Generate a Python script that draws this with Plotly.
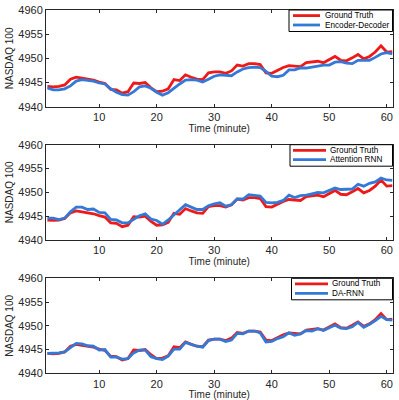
import plotly.graph_objects as go

# Time steps (minutes)
minutes = list(range(1, 62))

ground_truth = [
    4944.2, 4944.1, 4944.2, 4944.5, 4945.7, 4946.1, 4945.9, 4945.7, 4945.5, 4945.1,
    4944.8, 4943.6, 4943.5, 4942.8, 4943.1, 4944.9, 4944.8, 4945.0, 4943.9, 4943.1,
    4943.2, 4943.7, 4945.6, 4945.4, 4946.6, 4946.1, 4945.7, 4945.6, 4947.0, 4947.2,
    4947.2, 4946.9, 4947.4, 4948.6, 4948.4, 4948.9, 4948.9, 4948.7, 4947.0, 4946.9,
    4947.5, 4948.1, 4948.5, 4948.4, 4948.3, 4949.1, 4949.2, 4949.4, 4949.1, 4949.8,
    4950.4, 4949.6, 4949.5, 4950.1, 4950.8, 4949.9, 4950.4, 4951.3, 4952.6, 4951.3,
    4951.4]

encoder_decoder = [
    4943.9, 4943.5, 4943.5, 4943.7, 4944.3, 4945.3, 4945.6, 4945.5, 4945.3, 4944.9,
    4944.7, 4943.7, 4943.0, 4942.5, 4942.4, 4943.1, 4944.1, 4944.3, 4943.8, 4943.0,
    4942.4, 4942.9, 4943.9, 4944.7, 4945.5, 4945.6, 4945.5, 4945.1, 4945.7, 4946.3,
    4946.6, 4946.5, 4946.4, 4947.2, 4947.8, 4948.1, 4948.2, 4948.1, 4947.3, 4946.3,
    4946.2, 4946.5, 4947.6, 4947.6, 4948.0, 4948.0, 4948.2, 4948.4, 4948.6, 4948.6,
    4949.2, 4949.3, 4949.0, 4948.9, 4949.6, 4949.6, 4949.6, 4950.2, 4950.9, 4951.2,
    4950.9]

attention_rnn = [
    4944.6, 4944.6, 4944.3, 4944.6, 4945.9, 4946.9, 4946.9, 4946.4, 4946.5, 4945.8,
    4945.7, 4944.3, 4944.2, 4943.6, 4943.6, 4944.4, 4945.1, 4945.5, 4944.4, 4944.1,
    4943.3, 4944.2, 4945.3, 4946.4, 4947.4, 4946.9, 4946.4, 4946.4, 4947.2, 4947.6,
    4947.8, 4947.1, 4947.4, 4948.6, 4948.6, 4949.5, 4949.4, 4949.2, 4947.9, 4947.8,
    4947.9, 4948.3, 4949.4, 4948.9, 4949.3, 4949.4, 4949.7, 4950.0, 4949.9, 4950.4,
    4950.9, 4950.6, 4950.6, 4950.7, 4951.7, 4951.3, 4951.9, 4952.2, 4953.0, 4952.6,
    4952.5]

da_rnn = [
    4944.2, 4944.2, 4944.3, 4944.5, 4945.4, 4946.3, 4946.2, 4945.8, 4945.7, 4944.9,
    4945.0, 4943.4, 4943.4, 4943.0, 4943.1, 4944.3, 4944.9, 4944.9, 4943.5, 4943.1,
    4942.9, 4943.6, 4945.1, 4945.1, 4946.5, 4946.1, 4945.7, 4945.5, 4946.9, 4947.2,
    4947.2, 4946.7, 4947.0, 4948.4, 4948.3, 4948.9, 4948.9, 4948.5, 4946.6, 4946.7,
    4947.3, 4947.7, 4948.5, 4948.0, 4948.3, 4949.0, 4948.9, 4949.4, 4949.0, 4949.6,
    4950.1, 4949.5, 4949.4, 4949.8, 4950.7, 4949.7, 4950.3, 4951.1, 4952.0, 4951.3,
    4951.2]

models = [("Encoder-Decoder", encoder_decoder),
          ("Attention RNN", attention_rnn),
          ("DA-RNN", da_rnn)]

x_ticks = [10, 20, 30, 40, 50, 60]
y_ticks = [4940, 4945, 4950, 4955, 4960]

RED = "#ee1a1a"
BLUE = "#3479d6"
W, H = 399, 400

# panel boxes in pixels (top, bottom)
panels_px = [(10.0, 106.7), (144.7, 240.0), (278.3, 373.3)]
x_left, x_right = 46, 392.5
x_dom = [x_left / W, x_right / W]
# legend box: left edge, sample line start/end, text start (pixels)
legend_px = [(289, 293, 320, 322.5), (290, 293, 326, 328), (291.5, 295, 328, 330)]


def px(xp, yp):
    return xp / W, 1 - yp / H


fig = go.Figure()
layout = dict(
    width=W, height=H,
    margin=dict(l=0, r=0, t=0, b=0),
    paper_bgcolor="white", plot_bgcolor="white",
    font=dict(family="Liberation Sans, Arial, sans-serif", color="#262626"),
    showlegend=False,
)
shapes, annotations = [], []

for i, (name, vals) in enumerate(models):
    n = "" if i == 0 else str(i + 1)
    fig.add_trace(go.Scatter(x=minutes, y=ground_truth, mode="lines", name="Ground Truth",
                             line=dict(color=RED, width=2.8), xaxis="x" + n, yaxis="y" + n))
    fig.add_trace(go.Scatter(x=minutes, y=vals, mode="lines", name=name,
                             line=dict(color=BLUE, width=2.8), xaxis="x" + n, yaxis="y" + n))
    top, bot = panels_px[i]
    ydom = [1 - bot / H, 1 - top / H]
    layout["xaxis" + n] = dict(
        domain=x_dom, anchor="y" + n, range=[0.75, 61], tickvals=x_ticks,
        ticks="inside", ticklen=3, tickcolor="#262626", mirror="ticks",
        showline=True, linecolor="#262626", linewidth=1, showgrid=False, zeroline=False,
        tickfont=dict(size=11), automargin=False,
        title=dict(text="Time (minute)", font=dict(size=10), standoff=0),
    )
    layout["yaxis" + n] = dict(
        domain=ydom, anchor="x" + n, range=[4940, 4960], tickvals=y_ticks,
        ticks="inside", ticklen=3, tickcolor="#262626", mirror="ticks",
        showline=True, linecolor="#262626", linewidth=1, showgrid=False, zeroline=False,
        tickfont=dict(size=11), automargin=False,
        title=dict(text="NASDAQ 100", font=dict(size=10), standoff=2),
    )

    # compact MATLAB-style legend box
    bl, l0, l1, tx = legend_px[i]
    x0, y0 = px(bl, top)
    x1, y1 = px(x_right, top + 21.5)
    shapes.append(dict(type="rect", xref="paper", yref="paper", x0=x0, x1=x1, y0=y1, y1=y0,
                       line=dict(color="black", width=1), fillcolor="white", layer="above"))
    for label, color, dy in [("Ground Truth", RED, 5.6), (name, BLUE, 15.0)]:
        a, b = px(l0, top + dy)
        c, _ = px(l1, top + dy)
        shapes.append(dict(type="line", xref="paper", yref="paper", x0=a, x1=c, y0=b, y1=b,
                           line=dict(color=color, width=2.8), layer="above"))
        t, _ = px(tx, top + dy)
        annotations.append(dict(text=label, xref="paper", yref="paper", x=t, y=b,
                                xanchor="left", yanchor="middle", showarrow=False,
                                font=dict(size=8.2, color="black")))

layout["shapes"] = shapes
layout["annotations"] = annotations
fig.update_layout(**layout)
fig.write_html("out.html", config={"displayModeBar": False},
               post_script="document.body.style.margin='0';")
